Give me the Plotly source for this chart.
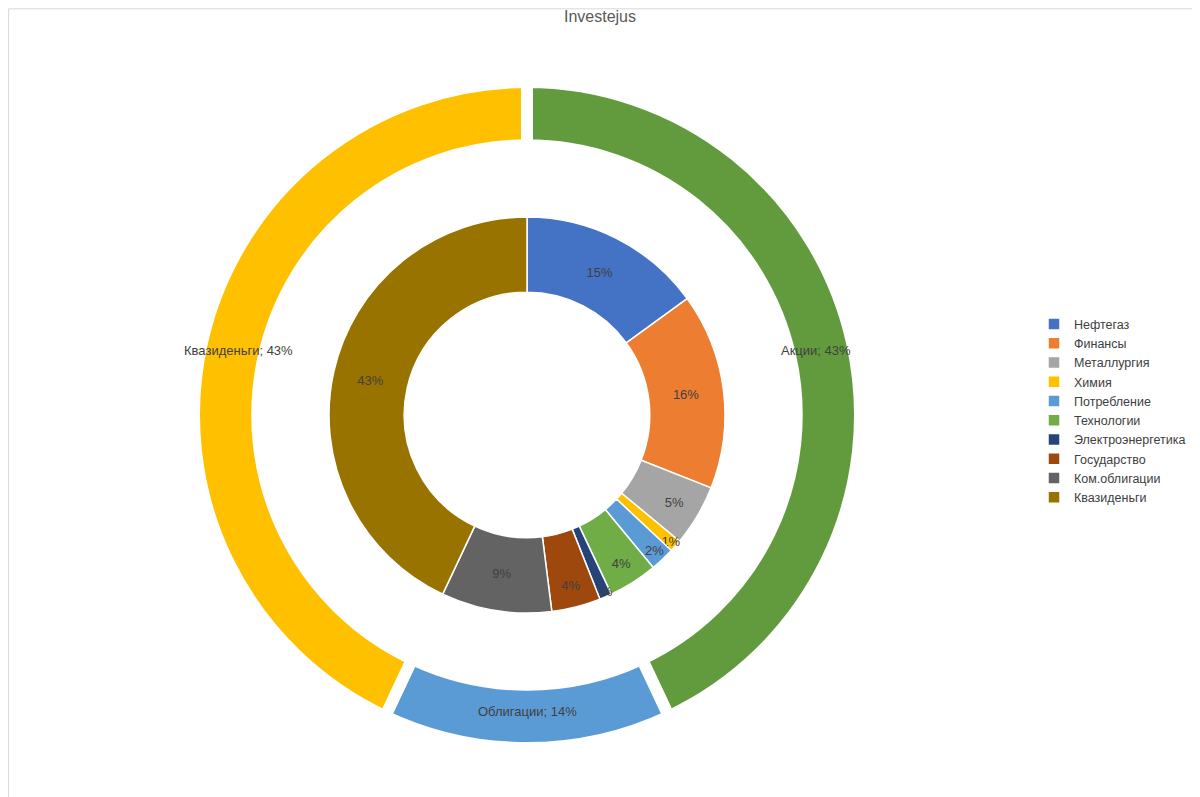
import math
import plotly.graph_objects as go

inner_labels = ["Нефтегаз", "Финансы", "Металлургия", "Химия", "Потребление", "Технологии",
                "Электроэнергетика", "Государство", "Ком.облигации", "Квазиденьги"]
inner_values = [15, 16, 5, 1, 2, 4, 1, 4, 9, 43]
inner_colors = ["#4472C4", "#ED7D31", "#A5A5A5", "#FFC000", "#5B9BD5", "#70AD47",
                "#264478", "#9E480E", "#636363", "#997300"]

outer_labels = ["Акции", "Облигации", "Квазиденьги"]
outer_values = [43, 14, 43]
outer_colors = ["#629B3E", "#5B9BD5", "#FFC000"]

W, H = 1200, 797
OFF = 8  # page offset
cx, cy = 527 - OFF, 415 - OFF

def dom(r):
    return dict(x=[(cx - r) / W, (cx + r) / W], y=[1 - (cy + r) / H, 1 - (cy - r) / H])

fig = go.Figure()
fig.add_trace(go.Pie(
    labels=outer_labels, values=outer_values, domain=dom(333), hole=0.81,
    sort=False, direction="clockwise", rotation=0,
    marker=dict(colors=outer_colors, line=dict(color="white", width=12)),
    textinfo="none", showlegend=False, hoverinfo="label+value"))
fig.add_trace(go.Pie(
    labels=inner_labels, values=inner_values, domain=dom(198), hole=0.62,
    sort=False, direction="clockwise", rotation=0,
    marker=dict(colors=inner_colors, line=dict(color="white", width=1.5)),
    texttemplate="%{value}%", textposition="inside",
    insidetextorientation="horizontal",
    textfont=dict(size=13, color="#404040"), hoverinfo="label+value"))

total = sum(outer_values)
acc = 0
ann = []
rr = 296
for lab, v in zip(outer_labels, outer_values):
    a = (acc + v / 2) / total * 2 * math.pi
    acc += v
    x = cx + rr * math.sin(a)
    y = cy - rr * math.cos(a)
    ann.append(dict(x=x / W, y=1 - y / H, xref="paper", yref="paper", showarrow=False,
                    xanchor="center", yanchor="middle",
                    text=f"{lab}; {v}%", font=dict(size=13, color="#404040")))

fig.update_layout(
    width=W, height=H, margin=dict(l=0, r=0, t=0, b=0),
    paper_bgcolor="white", plot_bgcolor="white",
    font=dict(family="Liberation Sans, Arial, sans-serif", color="#404040"),
    title=dict(text="Investejus", x=(600 - OFF) / W, xanchor="center", y=1 - (16 - OFF) / H,
               yanchor="middle", font=dict(size=16, color="#595959")),
    legend=dict(x=0.855, y=0.622, xanchor="left", yanchor="top",
                font=dict(size=12.5, color="#404040"), itemwidth=30, tracegroupgap=0),
    uniformtext=dict(minsize=13, mode="show"),
    annotations=ann,
    shapes=[dict(type="rect", xref="paper", yref="paper", x0=0.0005, y0=0.0008, x1=0.9995, y1=0.999,
                 line=dict(color="#D9D9D9", width=1))],
)
fig.write_html("out.html")
